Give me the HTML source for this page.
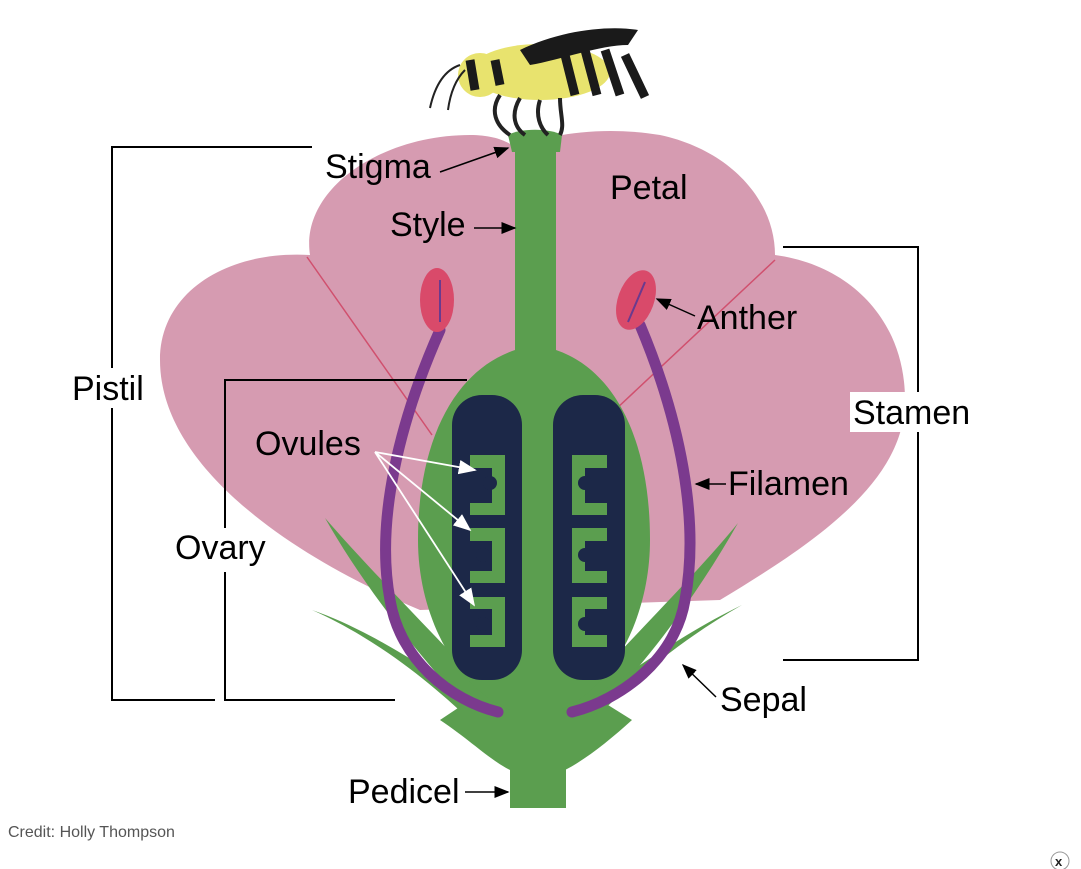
<!DOCTYPE html>
<html><head><meta charset="utf-8"><style>
body{margin:0;background:#fff;}
svg{display:block;font-family:"Liberation Sans",sans-serif;}
</style></head><body>
<svg width="1081" height="869" viewBox="0 0 1081 869">
<defs>
<marker id="ab" markerWidth="10" markerHeight="8" refX="9" refY="4" orient="auto"><path d="M0,0 L10,4 L0,8 Z" fill="#000"/></marker>
<marker id="aw" markerWidth="10" markerHeight="8" refX="9" refY="4" orient="auto"><path d="M0,0 L10,4 L0,8 Z" fill="#fff"/></marker>
</defs>
<path d="M310,255 C300,190 380,135 470,135 C495,135 510,142 518,150 C540,135 600,125 660,135 C730,150 775,200 775,255 C850,265 905,320 905,400 C905,480 820,540 720,600 L420,610 C300,560 160,470 160,360 C160,290 230,250 310,255 Z" fill="#d69bb1"/>
<path d="M307,257 L432,435 M775,260 L615,410" stroke="#d0506e" stroke-width="1.5" fill="none"/>
<g fill="#5b9e4f">
<path d="M325,518 C360,580 420,660 480,720 L500,705 C440,640 370,570 325,518 Z"/>
<path d="M312,610 C380,640 440,690 480,730 L495,715 C430,670 370,630 312,610 Z"/>
<path d="M738,523 C700,590 650,660 590,720 L570,705 C630,640 700,570 738,523 Z"/>
<path d="M742,605 C680,640 620,690 585,730 L570,715 C630,670 690,630 742,605 Z"/>
<path d="M440,720 C470,740 490,760 510,770 L565,770 C585,760 610,740 632,720 L600,700 L470,700 Z"/>
<rect x="510" y="760" width="56" height="48"/>
<path d="M515,150 L556,150 L556,350 C615,370 650,440 650,540 C650,620 610,690 560,710 L510,710 C460,690 418,620 418,540 C418,440 455,370 515,350 Z"/>
<path d="M508,135 C520,128 550,128 562,135 L560,152 L512,152 Z"/>
</g>
<path d="M440,330 C400,420 375,520 390,600 C400,660 450,700 498,712" stroke="#7b3a8e" stroke-width="11" fill="none" stroke-linecap="round"/>
<path d="M640,325 C680,420 700,520 685,600 C675,660 620,700 572,712" stroke="#7b3a8e" stroke-width="11" fill="none" stroke-linecap="round"/>
<ellipse cx="437" cy="300" rx="17" ry="32" fill="#d94a6a"/>
<path d="M440,280 L440,322" stroke="#6a3a8e" stroke-width="2"/>
<ellipse cx="636" cy="300" rx="18" ry="31" transform="rotate(20 636 300)" fill="#d94a6a"/>
<path d="M645,282 L628,322" stroke="#6a3a8e" stroke-width="2"/>
<rect x="452" y="395" width="70" height="285" rx="30" fill="#1c2848"/>
<rect x="553" y="395" width="72" height="285" rx="30" fill="#1c2848"/>
<g fill="#5b9e4f">
<path d="M470,455 h35 v60 h-35 v-12 h22 v-35 h-22 Z"/>
<path d="M470,528 h35 v55 h-35 v-12 h22 v-30 h-22 Z"/>
<path d="M470,597 h35 v50 h-35 v-12 h22 v-26 h-22 Z"/>
<path d="M607,455 h-35 v60 h35 v-12 h-22 v-35 h22 Z"/>
<path d="M607,528 h-35 v55 h35 v-12 h-22 v-30 h22 Z"/>
<path d="M607,597 h-35 v50 h35 v-12 h-22 v-26 h22 Z"/>
</g>
<g fill="#1c2848"><circle cx="490" cy="483" r="7"/><circle cx="483" cy="555" r="7"/><circle cx="483" cy="624" r="7"/><circle cx="585" cy="483" r="7"/><circle cx="585" cy="555" r="7"/><circle cx="585" cy="624" r="7"/></g>
<g>
<ellipse cx="540" cy="72" rx="70" ry="28" fill="#e8e36e"/>
<ellipse cx="480" cy="75" rx="22" ry="22" fill="#e8e36e"/>
<path d="M520,50 C560,30 610,25 638,30 L628,45 C600,45 560,60 530,65 Z" fill="#1a1a1a"/>
<path d="M565,55 l10,40 M585,50 l12,45 M605,50 l15,45 M625,55 l20,42 M470,60 l5,30 M495,60 l5,25" stroke="#1a1a1a" stroke-width="9" fill="none"/>
<path d="M500,95 C490,110 495,125 510,135 M520,98 C510,115 515,128 525,135 M540,100 C535,115 540,128 548,135 M560,98 C560,115 565,125 560,135" stroke="#222" stroke-width="4" fill="none"/>
<path d="M460,65 C445,70 435,85 430,108 M465,70 C455,80 450,95 448,110" stroke="#222" stroke-width="2" fill="none"/>
</g>
<g stroke="#000" stroke-width="2" fill="none">
<path d="M312,147 H112 V700 H215"/>
<path d="M467,380 H225 V700 H395"/>
<path d="M783,247 H918 V660 H783"/>
</g>
<rect x="66" y="368" width="90" height="40" fill="#fff"/>
<rect x="170" y="528" width="100" height="44" fill="#fff"/>
<rect x="850" y="392" width="130" height="40" fill="#fff"/>
<g stroke="#000" stroke-width="1.5" fill="none">
<path d="M440,172 L508,148" marker-end="url(#ab)"/>
<path d="M474,228 L515,228" marker-end="url(#ab)"/>
<path d="M695,316 L657,299" marker-end="url(#ab)"/>
<path d="M726,484 L696,484" marker-end="url(#ab)"/>
<path d="M716,697 L683,665" marker-end="url(#ab)"/>
<path d="M465,792 L508,792" marker-end="url(#ab)"/>
</g>
<g stroke="#fff" stroke-width="1.8" fill="none">
<path d="M375,452 L475,470" marker-end="url(#aw)"/>
<path d="M375,452 L470,530" marker-end="url(#aw)"/>
<path d="M375,452 L474,605" marker-end="url(#aw)"/>
</g>
<g font-size="34" fill="#000">
<text x="325" y="178">Stigma</text>
<text x="390" y="236">Style</text>
<text x="610" y="199">Petal</text>
<text x="697" y="329">Anther</text>
<text x="72" y="400">Pistil</text>
<text x="853" y="424">Stamen</text>
<text x="255" y="455">Ovules</text>
<text x="728" y="495">Filamen</text>
<text x="175" y="559">Ovary</text>
<text x="720" y="711">Sepal</text>
<text x="348" y="803">Pedicel</text>
</g>
<text x="8" y="837" font-size="16" fill="#555">Credit: Holly Thompson</text>
<circle cx="1060" cy="861" r="9" fill="#fff" stroke="#999"/>
<text x="1055" y="866" font-size="13" font-weight="bold" fill="#222">x</text>
</svg>
</body></html>
